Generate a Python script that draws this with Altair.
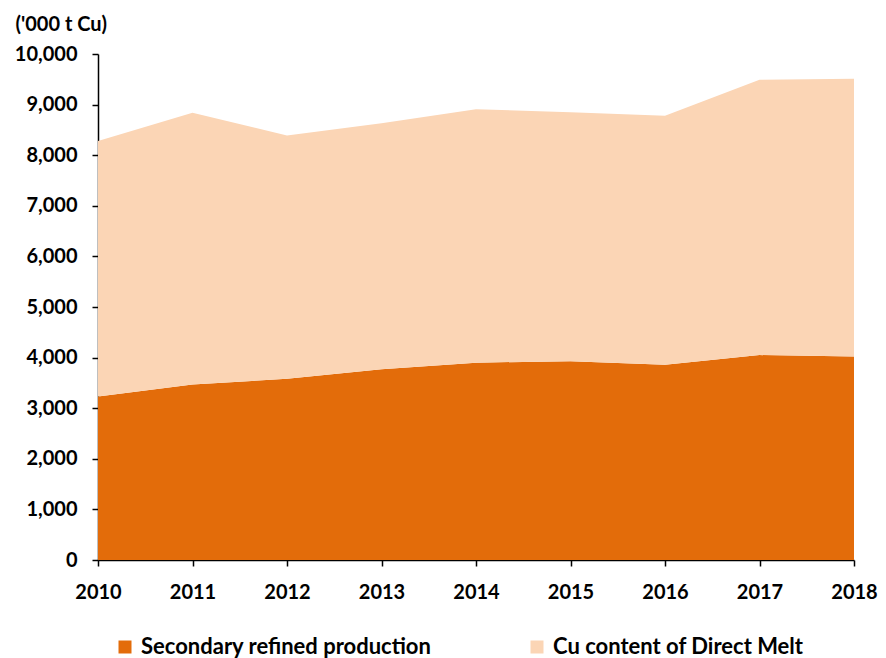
import altair as alt
import pandas as pd

years = [2010, 2011, 2012, 2013, 2014, 2015, 2016, 2017, 2018]
secondary = [3230, 3470, 3580, 3770, 3900, 3930, 3860, 4050, 4020]
direct_melt = [5050, 5370, 4810, 4860, 5010, 4920, 4920, 5440, 5490]
series_names = ["Secondary refined production", "Cu content of Direct Melt"]
colors = ["#E36C0A", "#FBD5B5"]
y_ticks = [0, 1000, 2000, 3000, 4000, 5000, 6000, 7000, 8000, 9000, 10000]

rows = []
for i, yr in enumerate(years):
    rows.append({"year": yr, "series": series_names[0], "value": secondary[i], "ord": 0})
    rows.append({"year": yr, "series": series_names[1], "value": direct_melt[i], "ord": 1})
df = pd.DataFrame(rows)

FONT = "Lato"
FS = 20

chart = alt.Chart(df).mark_area(opacity=1).encode(
    x=alt.X("year:Q",
            scale=alt.Scale(domain=[2010, 2018], nice=False, zero=False),
            axis=alt.Axis(values=years, format="d", title=None, grid=False, labelFlush=False,
                          labelFont=FONT, labelFontSize=FS, labelFontWeight="bold",
                          labelColor="#000", domainColor="#000", tickColor="#000",
                          tickSize=6, labelPadding=16, domainWidth=1.5, tickWidth=1.5)),
    y=alt.Y("value:Q", stack="zero",
            scale=alt.Scale(domain=[0, 10000], nice=False),
            axis=alt.Axis(values=y_ticks, format=",d", grid=False,
                          title="('000 t Cu)", titleAngle=0, titleAlign="left",
                          titleBaseline="alphabetic", titleX=-83, titleY=-24,
                          titleFont=FONT, titleFontSize=FS, titleFontWeight="bold", titleColor="#000",
                          labelFont=FONT, labelFontSize=FS, labelFontWeight="bold",
                          labelColor="#000", domainColor="#000", tickColor="#000",
                          tickSize=6, labelPadding=15, domainWidth=1.5, tickWidth=1.5)),
    color=alt.Color("series:N",
                    scale=alt.Scale(domain=series_names, range=colors),
                    legend=alt.Legend(title=None, orient="none", legendX=16, legendY=582,
                                      padding=0,
                                      direction="horizontal", symbolType="square",
                                      symbolSize=169, symbolStrokeWidth=0, labelLimit=0,
                                      labelFont=FONT, labelFontSize=22, labelFontWeight="bold",
                                      labelColor="#000", columnPadding=94, labelOffset=5)),
    order=alt.Order("ord:Q"),
).properties(
    width=756, height=506,
    autosize=alt.AutoSizeParams(type="none"),
    padding={"left": 90, "top": 46, "right": 24, "bottom": 98},
).configure_view(stroke=None)

chart.save("out.html", embed_options={"renderer": "svg", "actions": False})
